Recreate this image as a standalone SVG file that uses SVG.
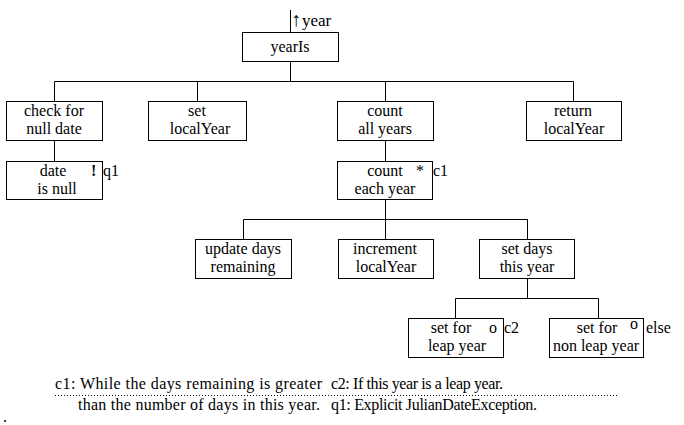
<svg xmlns="http://www.w3.org/2000/svg" width="684" height="425" viewBox="0 0 684 425">
<style>
.b{fill:#fff;stroke:#000;stroke-width:1}
.c{fill:none;stroke:#000;stroke-width:1}
text{font-family:"Liberation Serif","Times New Roman",serif;font-size:16px;fill:#000}
.m{text-anchor:middle}
.f{font-size:16px}
</style>
<rect width="684" height="425" fill="#fff"/>
<g id="connectors">
<path class="c" d="M290.5 10V32.5M290.5 61.5V81.5M54.5 81.5H573.5M54.5 81.5V101.5M197.5 81.5V101.5M385.5 81.5V101.5M573.5 81.5V101.5M54.5 140.5V161.5M385.5 140.5V161.5M385.5 199.5V219.5M243.5 219.5H527.5M243.5 219.5V239.5M385.5 219.5V239.5M527.5 219.5V239.5M527.5 278.5V298.5M455.5 298.5H598.5M455.5 298.5V318.5M598.5 298.5V318.5"/>
</g>
<g id="top-label"><text x="291" y="26"><tspan font-size="20px">↑</tspan><tspan dx="1" font-size="17px">year</tspan></text></g>
<g id="yearIs"><rect class="b" x="242.5" y="32.5" width="96" height="29"/><text class="m" x="290" y="52" font-size="17px">yearIs</text></g>
<g id="checkNull"><rect class="b" x="6.5" y="101.5" width="96" height="39"/><text class="m" x="54" y="116">check for</text><text class="m" x="54" y="134">null date</text></g>
<g id="setLocalYear"><rect class="b" x="148.5" y="101.5" width="98" height="39"/><text class="m" x="197" y="116">set</text><text class="m" x="200" y="134">localYear</text></g>
<g id="countAll"><rect class="b" x="337.5" y="101.5" width="96" height="39"/><text class="m" x="385" y="116">count</text><text class="m" x="385" y="134">all years</text></g>
<g id="returnLocalYear"><rect class="b" x="526.5" y="101.5" width="95" height="39"/><text class="m" x="573" y="116">return</text><text class="m" x="574" y="134">localYear</text></g>
<g id="dateNull"><rect class="b" x="6.5" y="161.5" width="96" height="38"/><text class="m" x="53" y="176">date</text><text class="m" x="57" y="194">is null</text><text x="91" y="176" font-weight="bold">!</text><text x="103" y="176">q1</text></g>
<g id="countEach"><rect class="b" x="337.5" y="161.5" width="95" height="38"/><text class="m" x="385" y="176">count</text><text class="m" x="385" y="194">each year</text><text x="416" y="176">*</text><text x="433" y="176">c1</text></g>
<g id="updateDays"><rect class="b" x="195.5" y="239.5" width="96" height="39"/><text class="m" x="243" y="254">update days</text><text class="m" x="243" y="272">remaining</text></g>
<g id="incrementLocalYear"><rect class="b" x="338.5" y="239.5" width="95" height="39"/><text class="m" x="385" y="254">increment</text><text class="m" x="386" y="272">localYear</text></g>
<g id="setDays"><rect class="b" x="479.5" y="239.5" width="95" height="39"/><text class="m" x="527" y="254">set days</text><text class="m" x="527" y="272">this year</text></g>
<g id="leapYear"><rect class="b" x="408.5" y="318.5" width="95" height="39"/><text class="m" x="451" y="333">set for</text><text class="m" x="457" y="351">leap year</text><text x="489" y="333">o</text><text x="504" y="333">c2</text></g>
<g id="nonLeapYear"><rect class="b" x="549.5" y="318.5" width="94" height="39"/><text class="m" x="597" y="333">set for</text><text class="m" x="596" y="351">non leap year</text><text x="630" y="329" font-size="12px">o</text><text x="646" y="333">else</text></g>
<g id="footer">
<text class="f" x="55" y="389" textLength="267" lengthAdjust="spacing">c1: While the days remaining is greater</text>
<text class="f" x="331" y="389" textLength="172" lengthAdjust="spacing">c2: If this year is a leap year.</text>
<line x1="55" y1="395.5" x2="617" y2="395.5" stroke="#000" stroke-width="1" stroke-dasharray="1,2"/>
<text class="f" x="78" y="410" textLength="242" lengthAdjust="spacing">than the number of days in this year.</text>
<text class="f" x="331" y="410" textLength="206" lengthAdjust="spacing">q1: Explicit JulianDateException.</text>
<text x="3" y="422">.</text>
</g>
</svg>
